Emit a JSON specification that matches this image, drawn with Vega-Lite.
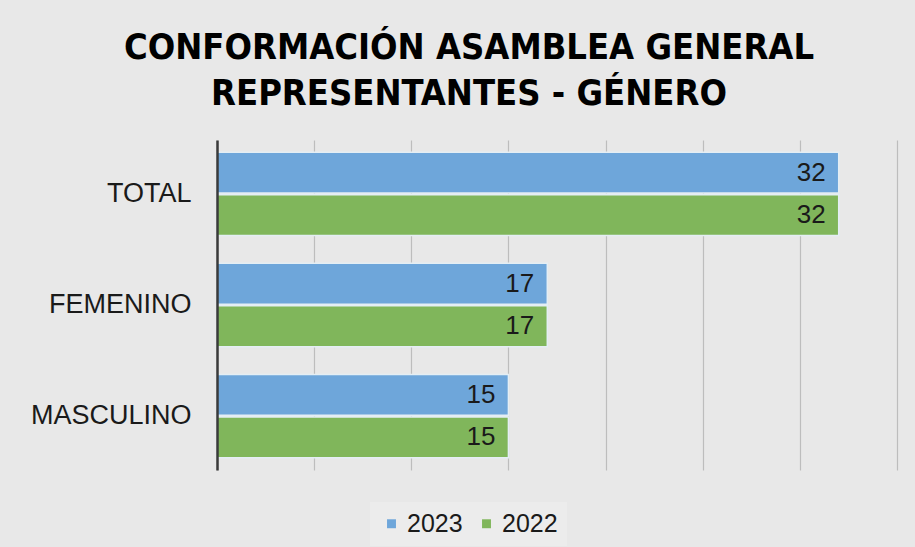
{
  "$schema": "https://vega.github.io/schema/vega-lite/v6.json",
  "width": 680,
  "height": 330,
  "autosize": {"type": "none"},
  "padding": {"left": 217, "top": 140, "right": 18, "bottom": 77},
  "background": "#e8e8e8",
  "config": {
    "font": "Liberation Sans",
    "view": {"stroke": null}
  },
  "title": {
    "text": ["CONFORMACIÓN ASAMBLEA GENERAL", "REPRESENTANTES  - GÉNERO"],
    "font": "DejaVu Sans Condensed",
    "fontSize": 36,
    "fontWeight": "bold",
    "color": "#000000",
    "anchor": "middle",
    "frame": "group",
    "dx": -88,
    "offset": 27,
    "lineHeight": 46
  },
  "data": {
    "values": [
      {"genero": "TOTAL", "anio": "2023", "valor": 32},
      {"genero": "TOTAL", "anio": "2022", "valor": 32},
      {"genero": "FEMENINO", "anio": "2023", "valor": 17},
      {"genero": "FEMENINO", "anio": "2022", "valor": 17},
      {"genero": "MASCULINO", "anio": "2023", "valor": 15},
      {"genero": "MASCULINO", "anio": "2022", "valor": 15}
    ]
  },
  "encoding": {
    "y": {
      "field": "genero",
      "type": "nominal",
      "sort": ["TOTAL", "FEMENINO", "MASCULINO"],
      "scale": {"paddingInner": 0.25, "paddingOuter": 0.11},
      "axis": {
        "title": null,
        "ticks": false,
        "labelFontSize": 27,
        "labelColor": "#1a1a1a",
        "labelPadding": 26,
        "domainColor": "#3a3a3a",
        "domainWidth": 2.5,
        "grid": false,
        "zindex": 1
      }
    },
    "yOffset": {
      "field": "anio",
      "type": "nominal",
      "sort": ["2023", "2022"],
      "scale": {"paddingInner": 0.04}
    },
    "x": {
      "field": "valor",
      "type": "quantitative",
      "scale": {"domain": [0, 35]},
      "axis": {
        "title": null,
        "labels": false,
        "domain": false,
        "ticks": false,
        "values": [0, 5, 10, 15, 20, 25, 30, 35],
        "grid": true,
        "gridColor": "#bdbdbd",
        "gridWidth": 1.2
      }
    }
  },
  "layer": [
    {
      "mark": {"type": "bar", "stroke": "#e4eef4", "strokeWidth": 1.5},
      "encoding": {
        "color": {
          "field": "anio",
          "type": "nominal",
          "sort": ["2023", "2022"],
          "scale": {"domain": ["2023", "2022"], "range": ["#6ea6da", "#80b65b"]},
          "legend": {
            "title": null,
            "orient": "none",
            "direction": "horizontal",
            "legendX": 153,
            "legendY": 362,
            "symbolType": "square",
            "symbolSize": 80,
            "symbolStrokeWidth": 0,
            "labelFontSize": 25,
            "labelColor": "#1a1a1a",
            "columnPadding": 11,
            "labelOffset": 3,
            "fillColor": "#ececec",
            "padding": 9
          }
        }
      }
    },
    {
      "mark": {"type": "text", "align": "right", "baseline": "middle", "dx": -13, "fontSize": 26, "color": "#1a1a1a"},
      "encoding": {
        "text": {"field": "valor", "type": "quantitative"}
      }
    }
  ]
}
